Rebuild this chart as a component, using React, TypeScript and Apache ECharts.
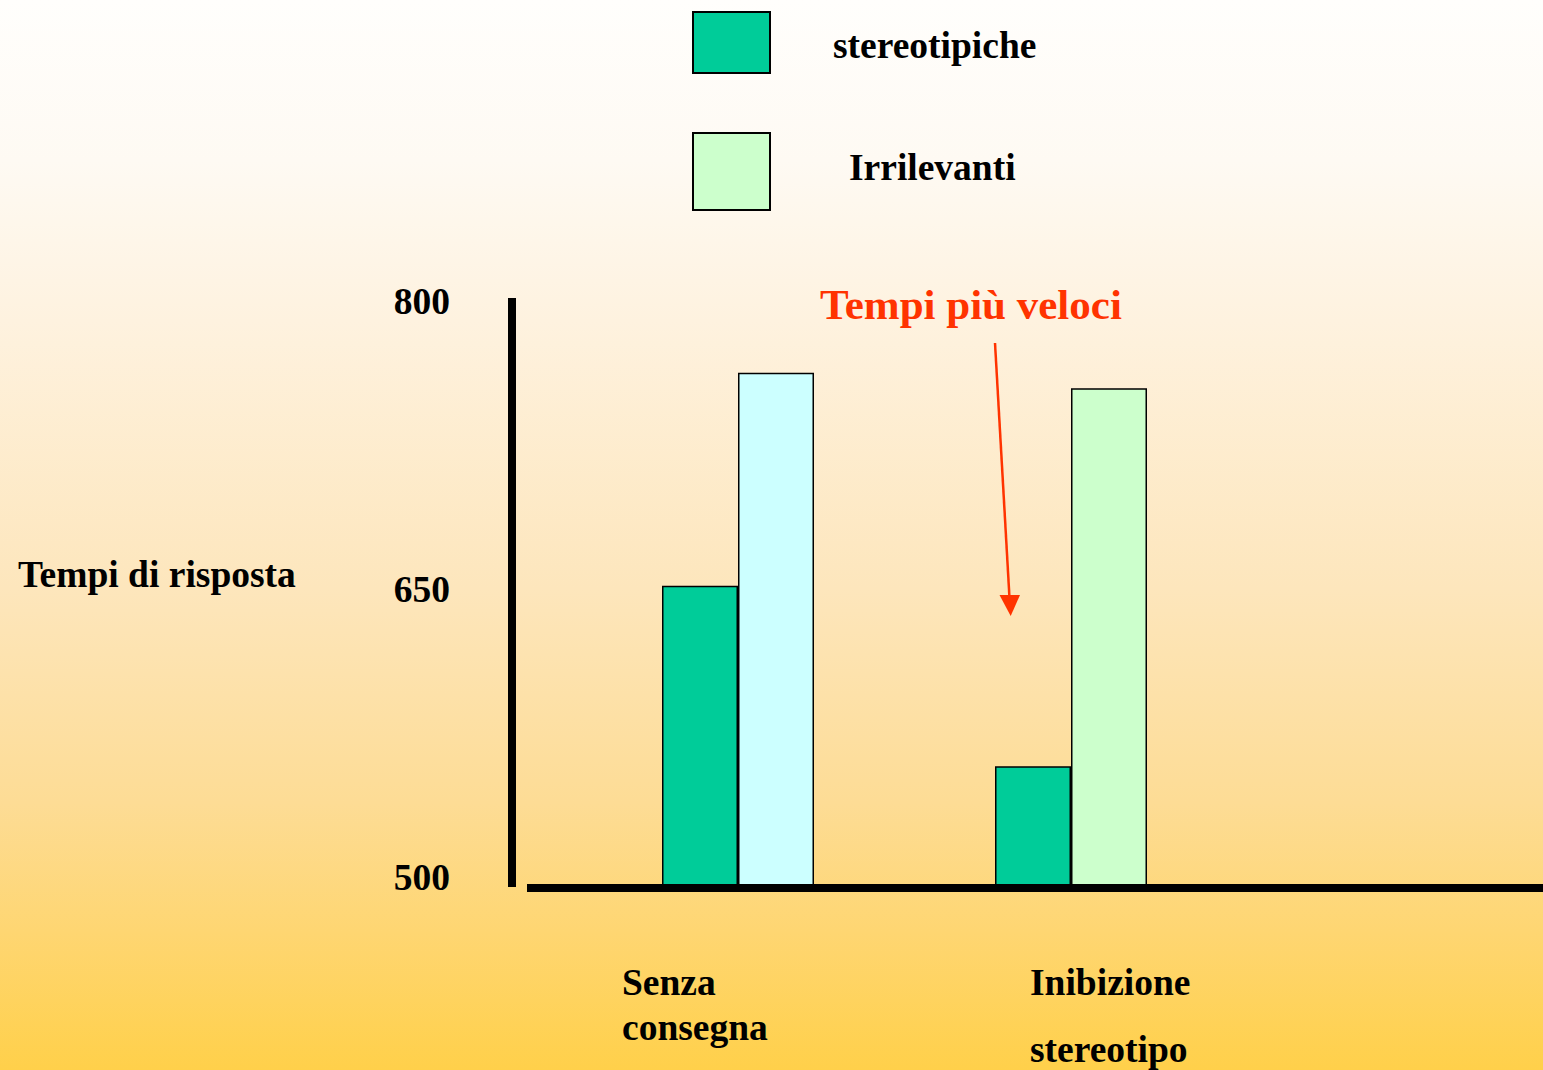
import React, { useEffect, useRef } from "react";
import * as echarts from "echarts";

const categories = ["Senza consegna", "Inibizione stereotipo"];
const categoryLines = [
  ["Senza", "consegna"],
  ["Inibizione", "stereotipo"],
];
const seriesNames = ["stereotipiche", "Irrilevanti"];
const stereotipiche = [657, 563];
const irrilevanti = [768, 760];
const irrilevantiColors = ["#CCFFFF", "#CCFFCC"];
const yTicks = [500, 650, 800];
const yMin = 500;
const yMax = 807;
const yTitle = "Tempi di risposta";
const annotation = "Tempi più veloci";

const FAMILY = '"Liberation Serif", "Times New Roman", serif';
const FS = 37.5;
const FONT = `bold ${FS}px ${FAMILY}`;

export default function App() {
  const ref = useRef<HTMLDivElement>(null);

  useEffect(() => {
    if (!ref.current) return;
    const chart = echarts.init(ref.current, undefined, { renderer: "svg" });

    const labelPos = [
      { x: 622, ys: [982, 1027] },
      { x: 1030, ys: [982, 1049] },
    ];
    const catTexts: any[] = [];
    categoryLines.forEach((lines, i) => {
      lines.forEach((t, j) => {
        catTexts.push({
          type: "text",
          x: labelPos[i].x,
          y: labelPos[i].ys[j],
          style: { text: t, font: FONT, fill: "#000", verticalAlign: "middle", align: "left" },
        });
      });
    });

    const richA = { fontSize: FS, fontWeight: "bold", fontFamily: FAMILY, color: "#000" };

    const option: any = {
      animation: false,
      grid: [
        { left: 527, right: 0, top: 298, bottom: 182 },
        { left: 571.5, width: 666, top: 298, bottom: 183 },
      ],
      xAxis: [
        {
          type: "value",
          gridIndex: 0,
          min: 0,
          max: 1,
          z: 5,
          axisLine: { show: true, onZero: false, lineStyle: { color: "#000", width: 8, cap: "butt" } },
          axisTick: { show: false },
          axisLabel: { show: false },
          splitLine: { show: false },
        },
        {
          type: "category",
          gridIndex: 1,
          data: categories,
          axisLine: { show: false },
          axisTick: { show: false },
          axisLabel: { show: false },
          splitLine: { show: false },
        },
      ],
      yAxis: [
        { type: "value", gridIndex: 0, show: false, min: 0, max: 1 },
        {
          type: "value",
          gridIndex: 1,
          min: yMin,
          max: yMax,
          interval: 50,
          offset: 59.5,
          axisLine: { show: true, onZero: false, lineStyle: { color: "#000", width: 8, cap: "butt" } },
          axisTick: { show: false },
          splitLine: { show: false },
          axisLabel: {
            margin: 62,
            color: "#000",
            fontSize: FS,
            fontWeight: "bold",
            fontFamily: FAMILY,
            verticalAlign: "bottom",
            lineHeight: 20,
            formatter: (v: number) => (yTicks.includes(v) ? String(v) : ""),
          },
        },
      ],
      legend: [
        {
          data: [seriesNames[0]],
          left: 692,
          top: 11,
          padding: 0,
          itemWidth: 77,
          itemHeight: 61,
          icon: "rect",
          selectedMode: false,
          formatter: "{a|{name}}",
          textStyle: {
            ...richA,
            padding: [6, 0, 0, 58],
            rich: { a: richA },
          },
        },
        {
          data: [seriesNames[1]],
          left: 692,
          top: 132,
          padding: 0,
          itemWidth: 77,
          itemHeight: 77,
          icon: "rect",
          selectedMode: false,
          formatter: "{a|{name}}",
          textStyle: {
            ...richA,
            padding: [0, 0, 9, 74],
            rich: { a: richA },
          },
        },
      ],
      series: [
        {
          name: seriesNames[0],
          type: "bar",
          xAxisIndex: 1,
          yAxisIndex: 1,
          data: stereotipiche,
          barWidth: 76,
          barGap: "0%",
          itemStyle: { color: "#00CC99", borderColor: "#000", borderWidth: 1.5 },
        },
        {
          name: seriesNames[1],
          type: "bar",
          xAxisIndex: 1,
          yAxisIndex: 1,
          data: irrilevanti.map((v, i) => ({ value: v, itemStyle: { color: irrilevantiColors[i] } })),
          barWidth: 76,
          barGap: "0%",
          itemStyle: { color: "#CCFFCC", borderColor: "#000", borderWidth: 1.5 },
        },
      ],
      graphic: [
        {
          type: "text",
          x: 18,
          y: 574,
          style: { text: yTitle, font: FONT, fill: "#000", verticalAlign: "middle", align: "left" },
        },
        {
          type: "text",
          x: 820,
          y: 304,
          style: {
            text: annotation,
            font: `bold 43px ${FAMILY}`,
            fill: "#FF3300",
            verticalAlign: "middle",
            align: "left",
          },
        },
        {
          type: "line",
          shape: { x1: 995, y1: 343, x2: 1009.5, y2: 598 },
          style: { stroke: "#FF3300", lineWidth: 2.5 },
        },
        {
          type: "polygon",
          shape: { points: [[999.5, 595], [1020, 595], [1010.7, 616]] },
          style: { fill: "#FF3300" },
        },
        ...catTexts,
      ],
    };

    chart.setOption(option);
    return () => chart.dispose();
  }, []);

  return (
    <div
      ref={ref}
      style={{
        position: "absolute",
        left: 0,
        top: 0,
        width: 1543,
        height: 1070,
        background:
          "linear-gradient(to bottom, #FFFEFC 0%, #FEFAF3 15%, #FEF2DF 30%, #FDE6BC 55%, #FDDC95 75%, #FED672 87%, #FFD04A 100%)",
      }}
    />
  );
}
